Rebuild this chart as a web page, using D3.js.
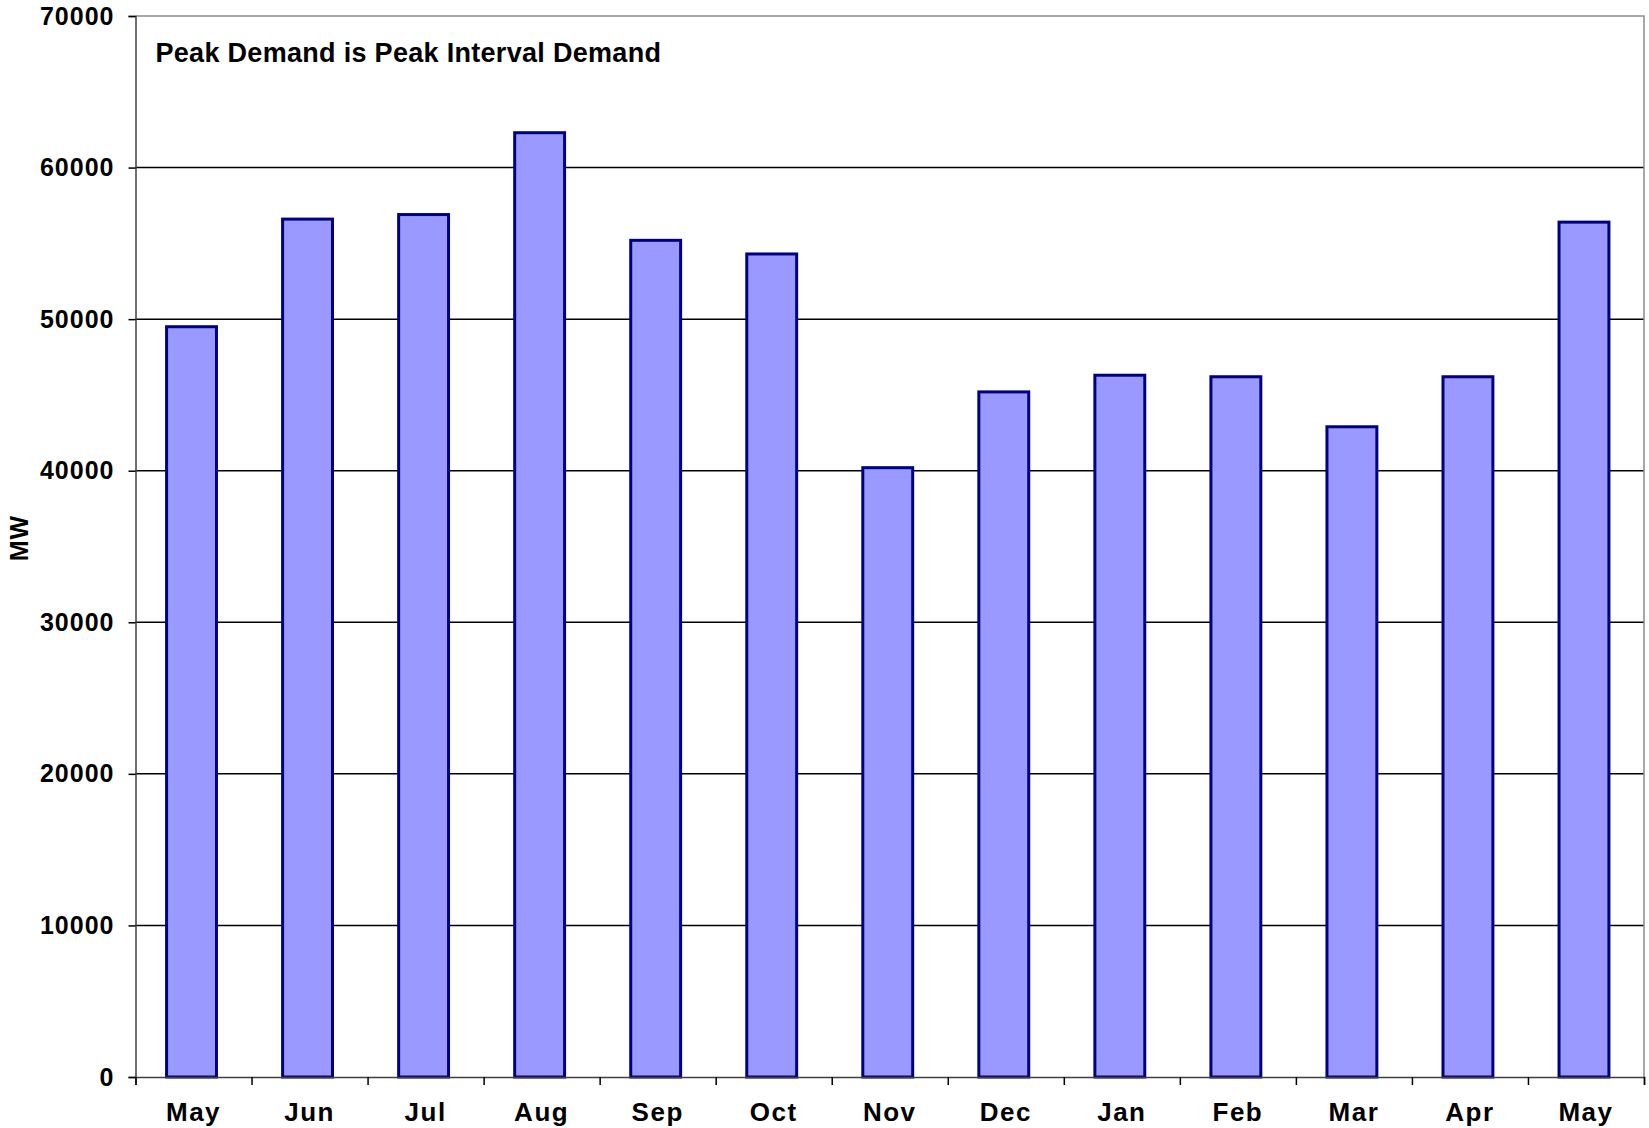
<!DOCTYPE html>
<html lang="en">
  <head>
    <meta charset="utf-8">
    <title>Peak Demand</title>
    <script src="https://d3js.org/d3.v7.min.js"></script>
    <style>
      body { margin: 0; background: #fff; }
      text { font-family: "Liberation Sans", Arial, sans-serif; font-weight: bold; fill: #000; }
    </style>
  </head>
  <body>
    <script type="text/javascript">
    // data
    var months = ["May", "Jun", "Jul", "Aug", "Sep", "Oct", "Nov", "Dec", "Jan", "Feb", "Mar", "Apr", "May"];
    var peakMW = [49500, 56600, 56900, 62300, 55200, 54300, 40200, 45200, 46300, 46200, 42900, 46200, 56400];
    var yTicks = [0, 10000, 20000, 30000, 40000, 50000, 60000, 70000];

    var w = 1649;
    var h = 1128;
    var margin = {top: 16, right: 5, bottom: 51, left: 135.5};
    var innerW = w - margin.left - margin.right;
    var innerH = h - margin.top - margin.bottom;

    var svg = d3.select("body")
                .append("svg")
                .attr("width", w)
                .attr("height", h);

    var g = svg.append("g")
               .attr("transform", "translate(" + margin.left + "," + margin.top + ")");

    // index based band scale since "May" shows up twice
    var xScale = d3.scaleBand()
                   .domain(d3.range(months.length))
                   .range([0, innerW])
                   .paddingInner(0.57)
                   .paddingOuter(0.285);

    var xEdge = d3.scaleLinear()
                  .domain([0, months.length])
                  .range([0, innerW]);

    var yScale = d3.scaleLinear()
                   .domain([0, 70000])
                   .range([innerH, 0]);

    // gridlines
    g.selectAll("line.grid")
     .data(yTicks.filter(function(d) { return d > 0 && d < 70000; }))
     .enter()
     .append("line")
     .attr("class", "grid")
     .attr("x1", 0)
     .attr("x2", innerW)
     .attr("y1", function(d) { return yScale(d); })
     .attr("y2", function(d) { return yScale(d); })
     .attr("stroke", "#000")
     .attr("stroke-width", 1.5);

    // top and right frame
    g.append("path")
     .attr("d", "M0," + yScale(70000) + "H" + innerW + "V" + yScale(0))
     .attr("fill", "none")
     .attr("stroke", "#8c8c8c")
     .attr("stroke-width", 1.5);

    // bars
    g.selectAll("rect")
     .data(peakMW)
     .enter()
     .append("rect")
     .attr("x", function(d, i) { return xScale(i) - 2; })
     .attr("y", function(d) { return yScale(d); })
     .attr("width", xScale.bandwidth())
     .attr("height", function(d) { return innerH - yScale(d); })
     .attr("fill", "#9999ff")
     .attr("stroke", "#000080")
     .attr("stroke-width", 3);

    // y axis
    var yAxis = d3.axisLeft(yScale)
                  .tickValues(yTicks)
                  .tickSize(7)
                  .tickPadding(14)
                  .tickFormat(d3.format("d"));

    var yG = g.append("g").call(yAxis);
    yG.select(".domain").attr("stroke", "#404040").attr("stroke-width", 1.5);
    yG.selectAll(".tick line").attr("stroke", "#000").attr("stroke-width", 1.5);
    yG.selectAll("text").style("font-size", "25px").style("letter-spacing", "1px");

    // x axis: ticks on category edges
    var xTickAxis = d3.axisBottom(xEdge)
                      .tickValues(d3.range(months.length + 1))
                      .tickSize(8)
                      .tickFormat("");
    var xG = g.append("g")
              .attr("transform", "translate(0," + innerH + ")")
              .call(xTickAxis);
    xG.select(".domain").attr("stroke", "#404040").attr("stroke-width", 1.5);
    xG.selectAll(".tick line").attr("stroke", "#000").attr("stroke-width", 1.5);

    // x labels
    var xLabelAxis = d3.axisBottom(xScale)
                       .tickSize(0)
                       .tickPadding(25.5)
                       .tickFormat(function(i) { return months[i]; });
    var xl = g.append("g")
              .attr("transform", "translate(0," + innerH + ")")
              .call(xLabelAxis);
    xl.select(".domain").remove();
    xl.selectAll("text").style("font-size", "26px").style("letter-spacing", "1.5px");

    // y title
    svg.append("text")
       .attr("transform", "translate(28,538) rotate(-90)")
       .attr("text-anchor", "middle")
       .style("font-size", "25px")
       .style("letter-spacing", "1px")
       .text("MW");

    // note inside chart
    svg.append("text")
       .attr("x", 155.5)
       .attr("y", 62)
       .style("font-size", "27px")
       .style("letter-spacing", "0.3px")
       .text("Peak Demand is Peak Interval Demand");
    </script>
  </body>
</html>
